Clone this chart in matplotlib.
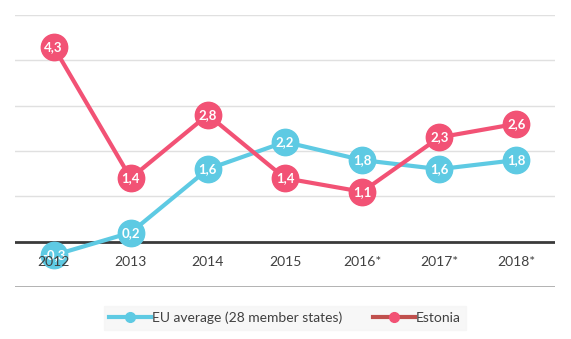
import matplotlib.pyplot as plt
from matplotlib.lines import Line2D

years = ["2012", "2013", "2014", "2015", "2016*", "2017*", "2018*"]
eu_avg = [-0.3, 0.2, 1.6, 2.2, 1.8, 1.6, 1.8]
estonia = [4.3, 1.4, 2.8, 1.4, 1.1, 2.3, 2.6]

blue = "#5ECAE3"
pink = "#F25275"

plt.rcParams["font.family"] = ["Lato", "DejaVu Sans"]

fig = plt.figure(figsize=(5.71, 3.39), dpi=100)
ax = fig.add_axes([15 / 571, 1 - 287 / 339, 540 / 571, 272 / 339])

x = list(range(len(years)))
ax.set_xlim(-0.5, len(years) - 0.5)
ax.set_ylim(-1, 5)

# gridlines
for y in range(-1, 6):
    if y == 0:
        ax.axhline(y, color="#3a3a3a", lw=2, zorder=2)
    elif y == -1:
        ax.axhline(y, color="#a6a6a6", lw=1.2, zorder=1)
    else:
        ax.axhline(y, color="#e0e0e0", lw=1, zorder=1)

for vals, col, z in [(eu_avg, blue, 3), (estonia, pink, 4)]:
    ax.plot(x, vals, color=col, lw=3, marker="o", ms=19, mec=col, mfc=col, zorder=z)
    for xi, v in zip(x, vals):
        ax.text(xi, v, f"{v:.1f}".replace(".", ","), color="white", fontsize=9.5,
                fontweight="bold", ha="center", va="center", zorder=z + 0.5)

for xi, lab in zip(x, years):
    ax.text(xi, -0.45, lab, ha="center", va="center", fontsize=10, color="#404040", zorder=10)

ax.set_xticks([])
ax.set_yticks([])
for s in ax.spines.values():
    s.set_visible(False)

handles = [
    Line2D([], [], color=blue, lw=3, marker="o", ms=7, mfc=blue, mec=blue),
    Line2D([], [], color="#C0504D", lw=3, marker="o", ms=7, mfc=pink, mec=pink),
]
leg = fig.legend(handles, ["EU average (28 member states)", "Estonia"], loc="center",
                 bbox_to_anchor=(285 / 571, 1 - 318 / 339), ncol=2, frameon=True,
                 fontsize=10, handlelength=3, columnspacing=2.2, handletextpad=0.1,
                 borderpad=0.4, fancybox=False)
leg.get_frame().set_facecolor("#f5f5f5")
leg.get_frame().set_edgecolor("#f5f5f5")
for t in leg.get_texts():
    t.set_color("#404040")

fig.savefig("out.png", dpi=100)
